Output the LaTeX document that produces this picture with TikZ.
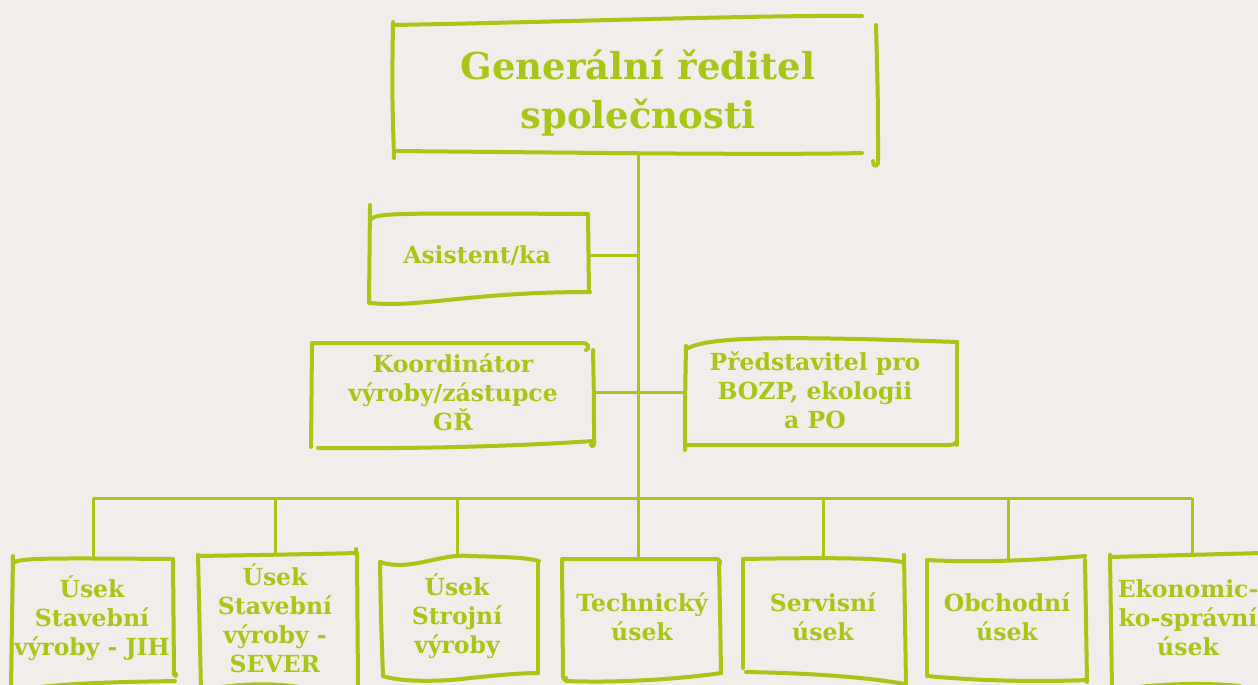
\documentclass[tikz,border=0pt]{standalone}
\usepackage{fontspec}
\setmainfont{DejaVu Serif}
\usetikzlibrary{fit}
\definecolor{grn}{HTML}{A9C516}
\definecolor{paper}{HTML}{F0EDEA}
\begin{document}
\begin{tikzpicture}[x=1pt,y=-1pt,
  sk/.style={draw=grn,line width=4pt,line cap=round,line join=round},
  wire/.style={draw=grn,line width=3pt},
  area/.style={inner sep=0pt,outer sep=0pt},
  lbl/.style={text=grn,font=\bfseries\fontsize{23.5}{29}\selectfont,align=center,inner sep=0pt,anchor=base},
  biglbl/.style={lbl,font=\bfseries\fontsize{37}{48}\selectfont}]
\fill[paper] (0,0) rectangle (1258,685);
\useasboundingbox (0,0) rectangle (1258,685);

% box areas
\node[area,fit={(393,18) (878,155)}] (gr) {};
\node[area,fit={(370,213) (589,297)}] (as) {};
\node[area,fit={(311,343) (594,447)}] (ko) {};
\node[area,fit={(685,340) (957,446)}] (pr) {};
\node[area,fit={(13,559) (173,684)}] (b1) {};
\node[area,fit={(198,553) (357,685)}] (b2) {};
\node[area,fit={(380,557) (538,677)}] (b3) {};
\node[area,fit={(562,559) (720,677)}] (b4) {};
\node[area,fit={(743,559) (905,684)}] (b5) {};
\node[area,fit={(927,561) (1085,680)}] (b6) {};
\node[area,fit={(1110,555) (1270,685)}] (b7) {};

% texts (anchor = baseline of the last line)
\node[biglbl] (gt) at (638,128) {Generální ředitel\\společnosti};
\node[lbl] (at) at (477,263) {Asistent/ka};
\node[lbl] (kt) at (453,430) {Koordinátor\\výroby/zástupce\\GŘ};
\node[lbl] (pt) at (815,428) {Představitel pro\\BOZP, ekologii\\a PO};
\node[lbl] (t1) at (92,655) {Úsek\\Stavební\\výroby - JIH};
\node[lbl] (t2) at (275,672) {Úsek\\Stavební\\výroby -\\SEVER};
\node[lbl] (t3) at (457,653) {Úsek\\Strojní\\výroby};
\node[lbl] (t4) at (642,640) {Technický\\úsek};
\node[lbl] (t5) at (823,640) {Servisní\\úsek};
\node[lbl] (t6) at (1007,640) {Obchodní\\úsek};
\node[lbl] (t7) at (1188,655) {Ekonomic-\\ko-správní\\úsek};

% connectors
\coordinate (bus) at (638,498);
\coordinate (busL) at (93,498);
\coordinate (busR) at (1192,498);
\coordinate (d2) at (275,498);
\coordinate (d3) at (457,498);
\coordinate (d5) at (823,498);
\coordinate (d6) at (1008,498);
\draw[wire] (gr.south -| bus) -- (bus);
\draw[wire] (busL) -- (busR);
\draw[wire] (as.east) -- (as.east -| bus);
\draw[wire] ([yshift=3pt]ko.east) -- ([yshift=3pt]ko.east -| pr.west);
\draw[wire] (busL) -- (busL |- b1.north);
\draw[wire] (d2) -- (d2 |- b2.north);
\draw[wire] (d3) -- (d3 |- b3.north);
\draw[wire] (bus) -- (bus |- b4.north);
\draw[wire] (d5) -- (d5 |- b5.north);
\draw[wire] (d6) -- (d6 |- b6.north);
\draw[wire] (busR) -- (busR |- b7.north);

% hand-drawn outlines
% general director
\draw[sk] (393,25) .. controls (560,22) and (760,15) .. (862,16);
\draw[sk] (393,22) .. controls (392,90) .. (394,158);
\draw[sk] (397,151) .. controls (600,153) and (780,155) .. (862,153);
\draw[sk] (876,25) .. controls (878,100) .. (878,160) .. controls (879,168) and (872,167) .. (873,161);
% assistant
\draw[sk] (370,205) -- (369,303);
\draw[sk] (371,219) .. controls (378,213) and (395,213) .. (588,214);
\draw[sk] (588,214) -- (589,292);
\draw[sk] (370,303) .. controls (420,308) and (470,292) .. (590,292);
% coordinator
\draw[sk] (312,343) -- (583,343) .. controls (589,343) and (590,349) .. (586,350);
\draw[sk] (312,345) -- (311,447);
\draw[sk] (318,448) .. controls (420,449) and (520,446) .. (593,441);
\draw[sk] (593,350) .. controls (594,400) .. (594,443) .. controls (594,447) and (591,447) .. (591,445);
% BOZP
\draw[sk] (688,348) .. controls (710,338) and (760,335) .. (957,342);
\draw[sk] (686,346) .. controls (685,400) .. (685,450);
\draw[sk] (685,445) -- (948,445) .. controls (955,445) and (957,443) .. (957,440);
\draw[sk] (957,342) -- (957,445);
% b1
\draw[sk] (13,563) .. controls (20,558) and (40,558) .. (173,559);
\draw[sk] (13,556) .. controls (12,620) .. (11,688);
\draw[sk] (173,560) -- (174,674) .. controls (175,677) and (177,676) .. (176,674);
\draw[sk] (18,690) .. controls (60,683) and (120,682) .. (175,681);
% b2
\draw[sk] (198,556) .. controls (260,555) and (320,554) .. (356,553) -- (356,549);
\draw[sk] (198,555) -- (201,690);
\draw[sk] (357,553) -- (358,688);
\draw[sk] (210,689) .. controls (240,683) and (280,683) .. (305,688);
% b3
\draw[sk] (380,562) .. controls (410,572) and (440,553) .. (470,556) .. controls (500,557) and (525,557) .. (539,561);
\draw[sk] (380,562) .. controls (381,620) .. (383,676);
\draw[sk] (538,564) -- (538,673);
\draw[sk] (383,676) .. controls (400,682) and (440,682) .. (470,678) .. controls (500,675) and (520,673) .. (538,673);
% b4
\draw[sk] (562,559) -- (716,559) .. controls (720,559) and (721,562) .. (719,565);
\draw[sk] (562,561) -- (563,677) .. controls (563,680) and (566,680) .. (566,678);
\draw[sk] (566,681) .. controls (620,683) and (680,679) .. (721,673);
\draw[sk] (719,563) .. controls (720,610) .. (721,673);
% b5
\draw[sk] (743,559) .. controls (800,558) and (880,557) .. (902,562);
\draw[sk] (743,560) -- (743,668);
\draw[sk] (904,555) -- (906,686);
\draw[sk] (746,672) .. controls (800,673) and (860,676) .. (905,684);
% b6
\draw[sk] (927,560) .. controls (980,563) and (1040,560) .. (1085,556);
\draw[sk] (927,560) -- (927,675);
\draw[sk] (1085,560) -- (1087,682);
\draw[sk] (927,676) .. controls (980,681) and (1040,682) .. (1087,680);
% b7
\draw[sk] (1110,557) -- (1262,553);
\draw[sk] (1110,555) -- (1112,690);
\draw[sk] (1130,688) .. controls (1170,683) and (1210,683) .. (1240,686);
\end{tikzpicture}
\end{document}
